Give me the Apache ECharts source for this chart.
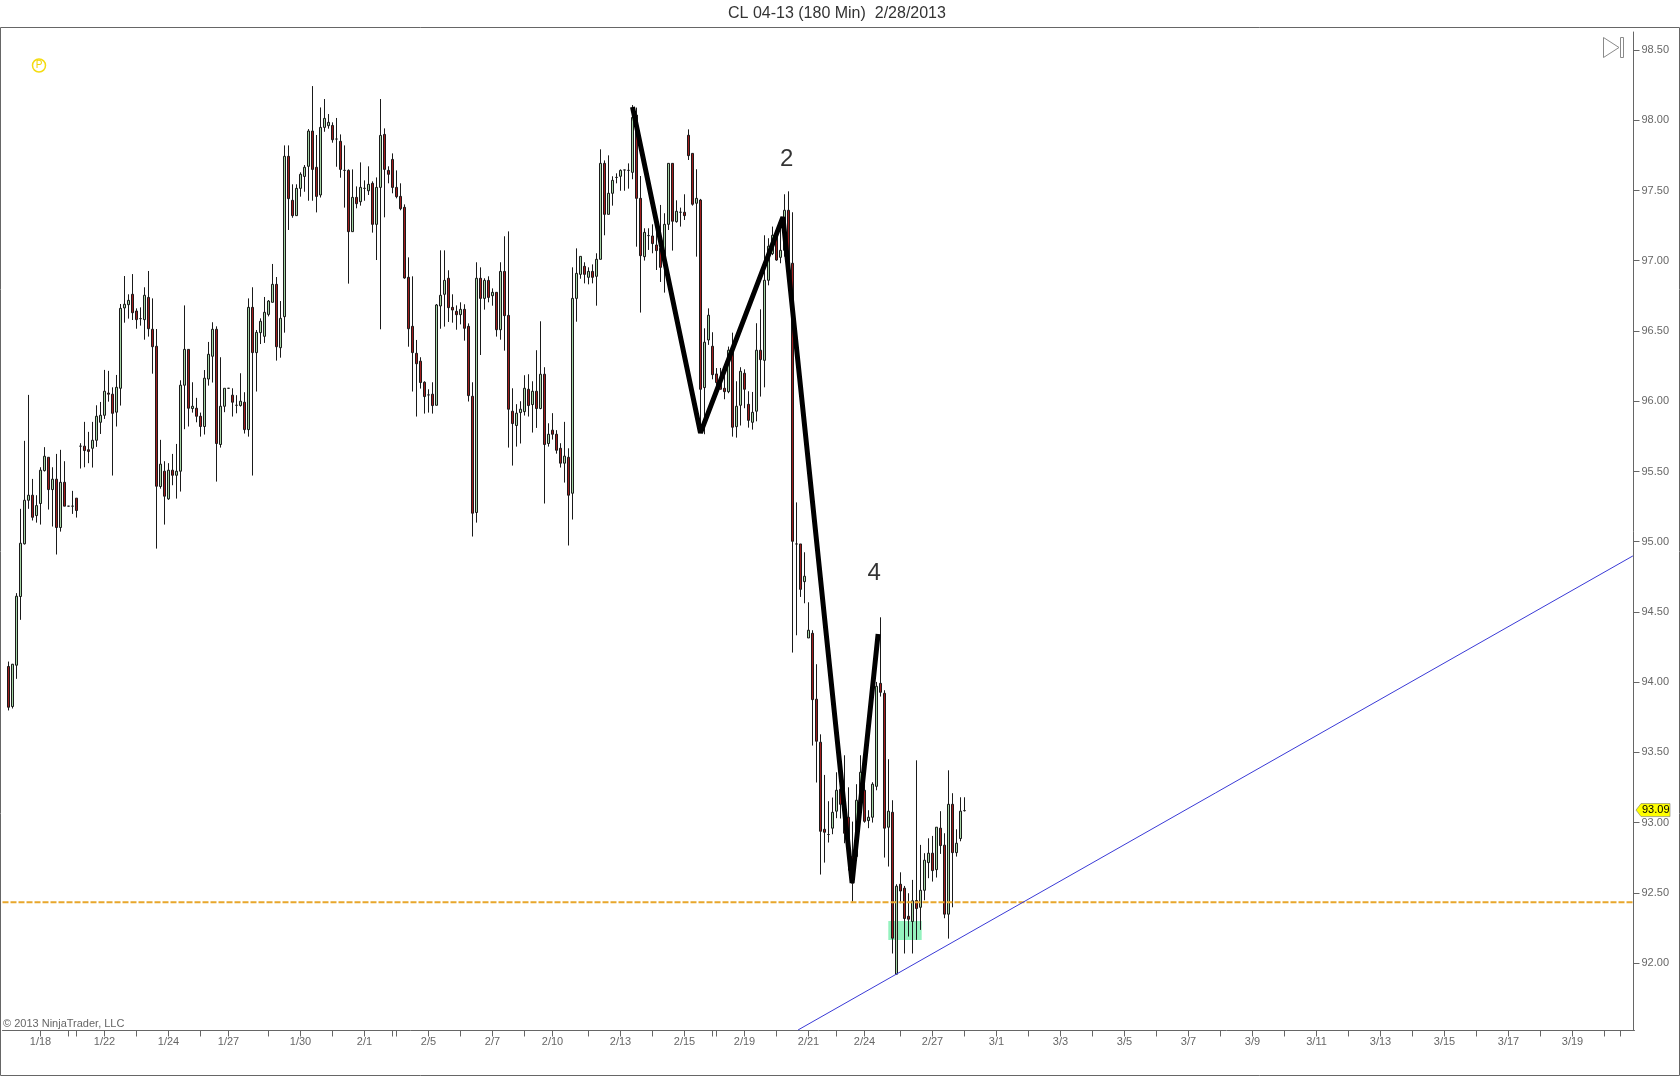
<!DOCTYPE html>
<html>
<head>
<meta charset="utf-8">
<style>html,body{margin:0;padding:0;background:#fff}#c{width:1680px;height:1076px}</style>
<script src="https://cdn.jsdelivr.net/npm/echarts@6/dist/echarts.min.js"></script>
</head>
<body>
<div id="c"></div>
<script>
const titleText = 'CL 04-13 (180 Min)  2/28/2013';
const copyright = '© 2013 NinjaTrader, LLC';
const opens = [94.112,93.827,94.121,94.61,94.985,95.295,95.331,95.186,95.272,95.506,95.601,95.371,95.445,95.101,95.423,95.253,95.253,95.31,95.68,95.68,
95.655,95.665,95.722,95.85,95.9,96.058,96.05,95.922,96.092,96.664,96.687,96.761,96.642,96.588,96.581,96.739,96.512,96.391,95.393,95.502,
95.305,95.509,95.473,95.502,96.114,96.369,95.948,95.95,95.893,95.82,96.158,96.32,96.512,95.692,95.964,96.092,96.043,95.971,95.969,95.993,
95.798,96.668,96.346,96.488,96.462,96.618,96.704,96.832,96.381,96.602,97.743,97.43,97.321,97.515,97.6,97.672,97.923,97.665,97.468,97.949,
97.961,97.963,97.866,97.85,97.643,97.643,97.207,97.451,97.42,97.515,97.498,97.551,97.259,97.522,97.899,97.643,97.721,97.522,97.458,97.38,
96.882,96.533,96.341,96.285,96.135,96.045,96.05,95.971,96.678,96.761,96.875,96.668,96.64,96.616,96.654,96.533,96.035,95.208,96.875,96.732,
96.86,96.751,96.775,96.509,96.924,96.611,95.929,95.827,95.919,95.926,96.085,95.976,96.071,95.948,96.192,95.699,95.794,95.765,95.665,95.559,
95.601,95.345,96.732,96.903,96.96,96.882,96.924,96.889,97.01,97.693,97.33,97.48,97.593,97.601,97.646,97.643,97.629,98.037,97.444,97.029,
97.179,97.176,97.112,97.088,97.005,97.259,97.693,97.278,97.345,97.345,97.893,97.764,97.409,97.432,96.097,96.436,96.391,96.194,96.15,96.092,
96.068,96.363,95.819,95.971,96.199,95.978,95.85,95.929,96.363,96.291,96.861,97.05,97.181,97.024,97.074,97.359,96.982,94.984,94.984,94.716,
94.315,94.348,93.879,93.573,92.953,92.916,92.961,93.082,93.238,93.131,93.039,92.759,92.759,93.09,93.231,93.015,93.039,93.259,93.992,93.921,
92.968,93.074,91.922,92.562,92.534,92.334,92.297,92.446,92.398,92.519,92.716,92.783,92.666,92.961,92.84,92.349,93.131,92.787,92.887,93.086];
const closes = [93.822,94.128,94.612,94.989,95.295,95.331,95.174,95.257,95.509,95.608,95.371,95.445,95.101,95.423,95.253,95.253,95.253,95.222,95.68,95.649,
95.643,95.722,95.893,95.9,96.071,96.05,95.914,96.099,96.661,96.69,96.718,96.63,96.581,96.588,96.754,96.516,96.388,95.395,95.552,95.324,
95.509,95.473,95.502,96.114,96.369,95.95,95.964,95.893,95.82,96.164,96.334,96.512,95.699,95.964,96.092,96.092,95.993,95.971,96.0,95.798,
96.668,96.346,96.49,96.569,96.633,96.713,96.832,96.388,96.59,97.743,97.442,97.321,97.515,97.615,97.665,97.923,97.65,97.458,97.949,98.013,
97.985,97.861,97.866,97.65,97.643,97.207,97.451,97.406,97.522,97.515,97.544,97.259,97.522,97.892,97.65,97.615,97.522,97.456,97.37,96.877,
96.516,96.346,96.267,96.133,96.033,96.045,95.969,96.685,96.754,96.86,96.666,96.649,96.616,96.654,96.519,96.04,95.203,96.875,96.732,96.86,
96.739,96.775,96.509,96.924,96.609,95.943,95.841,95.915,95.943,96.092,95.969,96.071,95.948,96.192,95.692,95.765,95.765,95.651,95.559,95.609,
95.331,96.732,96.91,97.031,96.903,96.924,96.882,97.01,97.693,97.33,97.48,97.572,97.593,97.643,97.646,97.643,98.02,97.444,97.036,97.202,
97.179,97.122,97.072,96.953,97.259,97.693,97.281,97.352,97.345,97.321,97.748,97.402,97.444,96.085,96.42,96.612,96.189,96.133,96.085,96.068,
96.363,95.815,95.964,96.213,96.085,95.864,95.921,96.363,96.296,96.861,97.103,97.181,97.005,97.074,97.359,97.0,95.003,94.984,94.661,94.754,
94.37,93.876,93.58,92.939,92.932,92.916,93.074,93.231,93.131,92.925,92.806,92.569,93.16,93.359,93.01,93.039,93.274,93.971,93.928,92.961,
93.082,92.178,92.548,92.514,92.318,92.313,92.444,92.389,92.519,92.733,92.783,92.659,92.968,92.837,92.349,93.131,92.787,92.854,93.082,93.086];
const lows = [93.799,93.813,94.024,94.444,94.98,95.234,95.151,95.136,95.122,95.5,95.229,95.108,94.909,95.072,95.253,95.253,95.198,95.172,95.521,95.53,
95.559,95.528,95.675,95.767,95.874,95.997,95.471,95.82,95.969,96.559,96.588,96.578,96.516,96.538,96.438,96.46,96.196,94.951,95.378,95.122,
95.298,95.402,95.307,95.357,95.801,95.82,95.919,95.85,95.748,95.763,96.111,96.133,95.428,95.67,95.922,96.092,95.891,95.914,95.962,95.77,
95.748,95.471,96.069,96.407,96.415,96.604,96.704,96.289,96.31,96.488,97.219,97.306,97.321,97.456,97.491,97.427,97.427,97.344,97.45,97.918,
97.94,97.84,97.669,97.591,97.378,96.837,97.207,97.373,97.392,97.427,97.468,97.2,97.005,96.512,97.309,97.551,97.48,97.444,97.359,96.872,
96.388,96.069,95.891,96.09,95.912,95.919,95.912,95.971,96.516,96.531,96.564,96.559,96.509,96.547,96.431,95.998,95.037,95.136,96.329,96.652,
96.704,96.68,96.46,96.438,96.36,95.67,95.542,95.677,95.699,95.898,95.891,95.777,95.81,95.943,95.272,95.677,95.727,95.627,95.528,95.421,
94.973,95.158,96.566,96.872,96.839,96.832,96.839,96.68,97.01,97.181,97.33,97.392,97.551,97.498,97.498,97.513,97.58,97.1,96.631,97.001,
97.077,97.053,96.934,96.849,96.773,97.219,97.072,97.271,97.243,97.29,97.717,97.392,97.029,95.789,95.765,96.401,96.156,96.099,96.085,96.014,
96.057,95.748,95.741,95.827,95.95,95.812,95.798,95.857,96.033,96.099,96.825,97.04,97.0,96.982,97.029,96.825,94.211,94.334,94.607,94.562,
94.315,93.549,93.286,92.631,92.716,92.859,92.918,93.032,93.03,92.854,92.66,92.439,92.73,93.02,93.0,92.961,93.001,93.231,93.898,92.752,
92.688,92.069,91.922,92.427,92.069,92.19,92.069,92.166,92.237,92.448,92.605,92.581,92.61,92.778,92.32,92.175,92.398,92.759,92.868,93.08];
const highs = [94.147,94.13,94.634,95.234,95.718,96.045,95.447,95.331,95.53,95.673,95.601,95.53,95.625,95.654,95.573,95.253,95.362,95.31,95.701,95.853,
95.782,95.853,95.971,95.995,96.223,96.216,96.099,96.187,96.692,96.891,96.761,96.905,96.661,96.668,96.811,96.927,96.732,96.514,95.725,95.573,
95.559,95.625,95.696,96.149,96.682,96.369,96.135,96.024,95.919,96.222,96.422,96.562,96.533,96.313,96.092,96.092,96.092,96.043,96.199,96.064,
96.732,96.811,96.507,96.59,96.742,96.72,96.977,96.884,96.713,97.821,97.821,97.544,97.544,97.629,97.681,97.937,98.243,97.895,98.091,98.151,
98.044,97.985,98.016,97.899,97.821,97.65,97.65,97.529,97.7,97.572,97.672,97.565,97.593,98.151,97.942,97.672,97.764,97.643,97.551,97.401,
97.024,96.889,96.436,96.313,96.142,96.085,96.135,96.692,97.074,97.074,96.932,96.761,96.682,96.704,96.69,96.554,96.135,96.989,96.953,96.875,
96.889,96.803,96.775,96.989,97.174,97.209,96.092,95.979,96.0,96.185,96.192,96.142,96.363,96.569,96.242,95.843,95.915,95.794,95.701,95.853,
95.665,96.953,97.088,97.031,96.989,96.953,96.974,97.053,97.793,97.714,97.75,97.601,97.622,97.65,97.646,97.693,98.108,98.09,97.603,97.231,
97.231,97.259,97.226,97.397,97.338,97.693,97.693,97.43,97.378,97.473,97.935,97.764,97.651,97.44,96.519,96.661,96.491,96.236,96.237,96.199,
96.389,96.488,96.142,96.242,96.227,96.071,96.066,96.555,96.654,97.181,97.16,97.243,97.2,97.302,97.473,97.494,97.345,95.28,94.984,94.925,
94.569,94.37,94.128,93.629,93.34,93.153,93.179,93.359,93.28,93.48,93.252,93.008,93.274,93.48,93.35,93.089,93.288,94.002,94.462,93.943,
93.452,93.16,92.562,92.647,92.55,92.498,92.593,93.444,92.842,92.783,92.889,92.906,92.968,93.082,92.925,93.373,93.21,92.953,93.181,93.181];

const yTicks = [92,92.5,93,93.5,94,94.5,95,95.5,96,96.5,97,97.5,98,98.5];
const dateLabelBars = [8,24,40,55,73,89,105,121,136,153,169,184,200,214,231,247,263,279,295,311,327,343,359,375,391];
const dateLabels = ['1/18','1/22','1/24','1/27','1/30','2/1','2/5','2/7','2/10','2/13','2/15','2/19','2/21','2/24','2/27','3/1','3/3','3/5','3/7','3/9','3/11','3/13','3/15','3/17','3/19'];
const tickBars = [8,15,17,24,32,40,48,55,65,73,81,89,96,97,105,113,121,129,136,145,153,161,169,176,177,184,192,200,207,214,223,231,239,247,255,263,271,279,287,295,303,311,319,327,335,343,351,359,367,375,383,391,399,403];
const waveBars = [156,173,193.6,210.9,217.4];
const wavePrices = [98.094,95.774,97.311,92.571,94.343];
const waveLabelBars = [194.55,216.4];
const waveLabelPrices = [97.724,94.778];
const waveLabels = ['2','4'];
const trendBars = [197.4,406.1];
const trendPrices = [91.525,94.899];
const levelBars = [-1.5,406.5];
const levelPrice = 92.434;
const zoneBars = [219.95,228.3];
const zonePrices = [92.3,92.165];
const lastPrice = 93.09;

const slotCount = 408;
const labelBySlot = {};
dateLabelBars.forEach((b,i)=>{labelBySlot[b+1]=dateLabels[i];});
const tickSlots = new Set(tickBars.map(b=>b+1));
const labelSlots = new Set(dateLabelBars.map(b=>b+1));
const categories = Array.from({length:slotCount},(_,j)=>labelBySlot[j]||String(j));
const candleData = opens.map((o,k)=>[k+1,o,closes[k],lows[k],highs[k]]);
const font = '"Liberation Sans",Arial,sans-serif';
const grey = '#666666';

const chart = echarts.init(document.getElementById('c'),null,{renderer:'canvas'});
const option = {
  animation:false,
  backgroundColor:'#ffffff',
  title:{text:titleText,left:728,top:6,textStyle:{fontFamily:font,fontSize:16,fontWeight:'normal',color:'#333333'},padding:0},
  grid:{left:2.5,top:32,width:1632,height:998.5,outerBoundsMode:'none'},
  xAxis:[
    {type:'category',data:categories,position:'bottom',
     axisLine:{onZero:false,lineStyle:{color:grey,width:1}},
     axisTick:{show:true,alignWithLabel:true,length:6,lineStyle:{color:grey},interval:(i)=>tickSlots.has(i)},
     axisLabel:{interval:(i)=>labelSlots.has(i),margin:6,color:grey,fontFamily:font,fontSize:11,formatter:(v)=>v},
     splitLine:{show:false}},
    {type:'value',min:-1.5,max:406.5,show:false,splitLine:{show:false},axisLine:{onZero:false}}
  ],
  yAxis:[{type:'value',position:'right',offset:-1,min:91.521,max:98.628,scale:true,
     axisLine:{show:true,onZero:false,lineStyle:{color:grey,width:1}},
     axisTick:{show:true,length:6,lineStyle:{color:grey},customValues:yTicks},
     axisLabel:{margin:8,color:grey,fontFamily:font,fontSize:11,padding:[1,0,0,0],customValues:yTicks,formatter:(v)=>v.toFixed(2)},
     splitLine:{show:false}}],
  series:[
    {type:'candlestick',name:'CL',xAxisIndex:0,yAxisIndex:0,z:2,barWidth:2,data:candleData,encode:{x:0,y:[1,2,3,4]},
     itemStyle:{color:'#a4d4a4',color0:'#a01c1c',borderColor:'#1a1a1a',borderColor0:'#1a1a1a',borderColorDoji:'#1a1a1a',borderWidth:1}},
    {type:'line',name:'zone',xAxisIndex:1,yAxisIndex:0,z:3,symbol:'none',data:[],silent:true,
     markArea:{silent:true,itemStyle:{color:'rgba(60,232,136,0.55)'},data:[[{xAxis:zoneBars[0],yAxis:zonePrices[0]},{xAxis:zoneBars[1],yAxis:zonePrices[1]}]]}},
    {type:'line',name:'level',xAxisIndex:1,yAxisIndex:0,z:4,symbol:'none',silent:true,
     data:levelBars.map(b=>[b,levelPrice]),lineStyle:{color:'#e8a72c',width:2,type:[6,2]}},
    {type:'line',name:'trend',xAxisIndex:1,yAxisIndex:0,z:4,symbol:'none',silent:true,
     data:trendBars.map((b,i)=>[b,trendPrices[i]]),lineStyle:{color:'#3a3ad6',width:1}},
    {type:'line',name:'waves',xAxisIndex:1,yAxisIndex:0,z:5,symbol:'none',silent:true,
     data:waveBars.map((b,i)=>[b,wavePrices[i]]),lineStyle:{color:'#000000',width:5,join:'bevel',cap:'butt'}},
    {type:'scatter',name:'waveLabels',xAxisIndex:1,yAxisIndex:0,z:6,symbolSize:0,silent:true,
     data:waveLabelBars.map((b,i)=>({value:[b,waveLabelPrices[i]],label:{formatter:waveLabels[i]}})),
     label:{show:true,position:'inside',color:'#000000',fontFamily:font,fontSize:24}}
  ]
};
chart.setOption(option);

const tagY = chart.convertToPixel({yAxisIndex:0},lastPrice);
chart.setOption({graphic:[
  {type:'rect',silent:true,z:0,shape:{x:0.5,y:27.5,width:1679,height:1048},style:{fill:'none',stroke:grey,lineWidth:1}},
  {type:'polygon',silent:true,z:10,shape:{points:[[1603.5,37.5],[1603.5,57.5],[1619,47.5]]},style:{fill:'none',stroke:'#8a8a8a',lineWidth:1}},
  {type:'rect',silent:true,z:10,shape:{x:1620.5,y:37.5,width:3,height:20},style:{fill:'none',stroke:'#8a8a8a',lineWidth:1}},
  {type:'circle',silent:true,z:10,shape:{cx:39,cy:65.5,r:6.5},style:{fill:'none',stroke:'#f4dc10',lineWidth:1.5}},
  {type:'text',silent:true,z:10,x:39,y:65.5,style:{text:'P',fill:'#f0d400',font:'10px '+font,align:'center',verticalAlign:'middle'}},
  {type:'text',silent:true,z:10,x:3,y:1024,style:{text:copyright,fill:grey,font:'11px '+font,verticalAlign:'middle'}},
  {type:'polygon',silent:true,z:10,shape:{points:[[1636,tagY],[1641,tagY-6.5],[1670,tagY-6.5],[1670,tagY+6.5],[1641,tagY+6.5]]},style:{fill:'#ffff00',stroke:'#777777',lineWidth:0.6}},
  {type:'text',silent:true,z:11,x:1642,y:tagY,style:{text:lastPrice.toFixed(2),fill:'#000000',font:'11px '+font,verticalAlign:'middle'}}
]});
</script>
</body>
</html>
